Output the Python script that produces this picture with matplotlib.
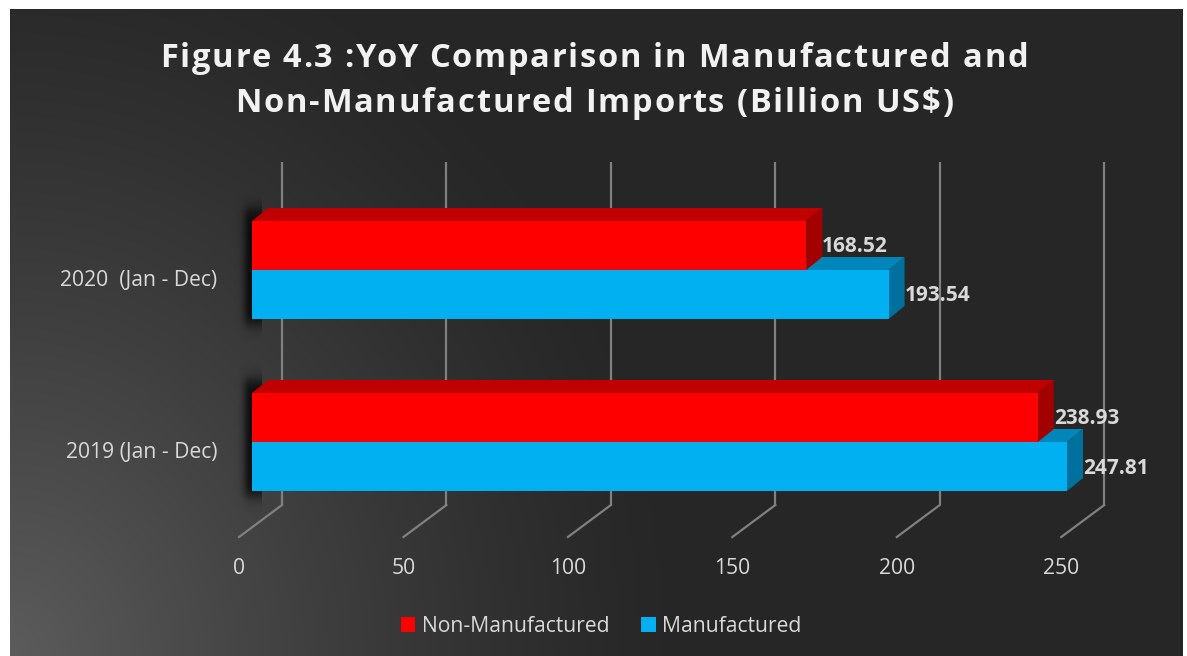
import numpy as np
import matplotlib
matplotlib.use("Agg")
import matplotlib.pyplot as plt
from matplotlib.patches import Polygon, Patch
from matplotlib.font_manager import FontProperties

# ---------------- data ----------------
categories = ["2019 (Jan - Dec)", "2020  (Jan - Dec)"]
series_names = ["Non-Manufactured", "Manufactured"]
non_manufactured = [238.93, 168.52]
manufactured = [247.81, 193.54]
x_ticks = [0, 50, 100, 150, 200, 250]
title_lines = ["Figure 4.3 :YoY Comparison in Manufactured and",
               "Non-Manufactured Imports (Billion US$)"]

# ---------------- style ----------------
W, H = 1187, 656
FONT = "Open Sans"
TXT = "#d9d9d9"
GRID = "#808080"
red_faces = ("#ff0000", "#c00000", "#a30000")      # front, top, side
blue_faces = ("#00b0f0", "#0086b8", "#00719e")
LBL = 15.2

fig = plt.figure(figsize=(W / 100, H / 100), dpi=100, facecolor="white")
renderer = fig.canvas.get_renderer()

# panel (dark) in pixel coordinates
pl, pr, pt, pb = 10, 1183, 9, 656
pos = [pl / W, 1 - pb / H, (pr - pl) / W, (pb - pt) / H]

# background gradient
bg = fig.add_axes(pos)
bg.set_axis_off()
ny, nx = pb - pt, pr - pl
yy, xx = np.mgrid[0:ny, 0:nx]
d = np.hypot(xx * 0.95, (ny - yy) * 0.85)
v = 38 + 54 * np.clip(1 - d / 650, 0, 1) ** 1.3
img = np.dstack([v, v, v]) / 255.0
bg.imshow(img, extent=[0, 1, 0, 1], aspect="auto", origin="upper")
bg.set_xlim(0, 1)
bg.set_ylim(0, 1)

# main axes: x in value units, y in category units
ax = fig.add_axes(pos)
ax.set_axis_off()
ax.patch.set_alpha(0)
px_per_unit = 3.289
x0_px = 252
ax.set_xlim(-(x0_px - pl) / px_per_unit, (pr - x0_px) / px_per_unit)
cat_px = 172.0
c0_px = 442
ax.set_ylim(-(pb - c0_px) / cat_px, (c0_px - pt) / cat_px)

# 3D geometry
dxb = 16 / px_per_unit        # bar depth (x)
dyb = 13 / cat_px             # bar depth (y)
back_off = 30 / px_per_unit
front_off = -13 / px_per_unit
y_top = (c0_px - 162) / cat_px
y_back = (c0_px - 505) / cat_px
y_front = (c0_px - 537) / cat_px

# gridlines (back wall + floor)
for t in x_ticks:
    ax.plot([t + back_off, t + back_off], [y_back, y_top], color=GRID, lw=1.6, zorder=1,
            solid_capstyle="butt")
    ax.plot([t + back_off, t + front_off], [y_back, y_front], color=GRID, lw=1.6, zorder=1)
    ax.text(t + front_off, (c0_px - 568) / cat_px, f"{t}", color=TXT, fontsize=LBL,
            family=FONT, ha="center", va="center", zorder=5)

bar_h = 49 / cat_px


def draw_bar(v, yc, faces, z):
    y0, y1 = yc - bar_h / 2, yc + bar_h / 2
    front = [(0, y0), (v, y0), (v, y1), (0, y1)]
    top = [(0, y1), (v, y1), (v + dxb, y1 + dyb), (dxb, y1 + dyb)]
    side = [(v, y0), (v + dxb, y0 + dyb), (v + dxb, y1 + dyb), (v, y1)]
    ax.add_patch(Polygon(top, closed=True, facecolor=faces[1], edgecolor="none", zorder=z))
    ax.add_patch(Polygon(side, closed=True, facecolor=faces[2], edgecolor="none", zorder=z))
    ax.add_patch(Polygon(front, closed=True, facecolor=faces[0], edgecolor="none", zorder=z))


# soft shadow image (alpha map) behind the left end of each bar group
sh_w_px, sh_h_px = 40, 150
sx = np.arange(sh_w_px) - 26.0          # px relative to bar start (0 at x=252)
sy = np.arange(sh_h_px) - sh_h_px / 2   # px relative to group centre
fx = np.exp(-0.5 * (np.clip(sx + 2, None, 0) / 5.0) ** 2) * (sx < 10)
half = 58.0
fy = 1 / (1 + np.exp((np.abs(sy) - half) / 4.0))
alpha = 0.75 * fy[:, None] * fx[None, :]
shadow = np.zeros((sh_h_px, sh_w_px, 4))
shadow[..., 3] = alpha

for i, cat in enumerate(categories):
    ax.imshow(shadow, extent=[sx[0] / px_per_unit, (sx[-1] + 1) / px_per_unit,
                              i - sh_h_px / 2 / cat_px + 4 / cat_px,
                              i + sh_h_px / 2 / cat_px + 4 / cat_px],
              aspect="auto", origin="upper", zorder=2, interpolation="bilinear")
    draw_bar(manufactured[i], i - bar_h / 2, blue_faces, 3)
    draw_bar(non_manufactured[i], i + bar_h / 2, red_faces, 4)
    ax.text(non_manufactured[i] + dxb, i + bar_h / 2 - 1.5 / cat_px, f"{non_manufactured[i]:.2f}",
            color=TXT, fontsize=15, fontweight="bold", family=FONT, ha="left", va="center", zorder=6)
    ax.text(manufactured[i] + dxb, i - bar_h / 2 - 1.5 / cat_px, f"{manufactured[i]:.2f}",
            color=TXT, fontsize=15, fontweight="bold", family=FONT, ha="left", va="center", zorder=6)
    ax.text((217 - x0_px) / px_per_unit, i - 11 / cat_px, cat, color=TXT, fontsize=LBL,
            family=FONT, ha="right", va="center", zorder=6)

ax.set_xlim(-(x0_px - pl) / px_per_unit, (pr - x0_px) / px_per_unit)
ax.set_ylim(-(pb - c0_px) / cat_px, (c0_px - pt) / cat_px)

# title with letter spacing (characters placed individually)
tfp = FontProperties(family=FONT, weight="bold", size=23.5)


def tw(s):
    return renderer.get_text_width_height_descent(s, tfp, ismath=False)[0]


def advances(s):
    base = tw("aa")
    return [tw("a" + c + "a") - base for c in s]


target_w = 1028 - 160
adv0 = advances(title_lines[0])
spacing = (target_w - sum(adv0)) / (len(title_lines[0]) - 1)
for line, base_px in zip(title_lines, [67, 112]):
    adv = advances(line)
    total = sum(adv) + spacing * (len(line) - 1)
    x = 594 - total / 2
    for c, a in zip(line, adv):
        if c != " ":
            fig.text(x / W, 1 - base_px / H, c, color="#f2f2f2", fontproperties=tfp,
                     ha="left", va="baseline")
        x += a + spacing

# legend
handles = [Patch(facecolor=red_faces[0], edgecolor="none"),
           Patch(facecolor=blue_faces[0], edgecolor="none")]
leg = fig.legend(handles, series_names, loc="center", bbox_to_anchor=(601 / W, 1 - 626 / H),
                 ncol=2, frameon=False, handlelength=0.7, handleheight=0.7, handletextpad=0.3,
                 columnspacing=1.5, prop={"family": FONT, "size": LBL})
for t in leg.get_texts():
    t.set_color(TXT)

fig.savefig("out.png", dpi=100, facecolor="white")
